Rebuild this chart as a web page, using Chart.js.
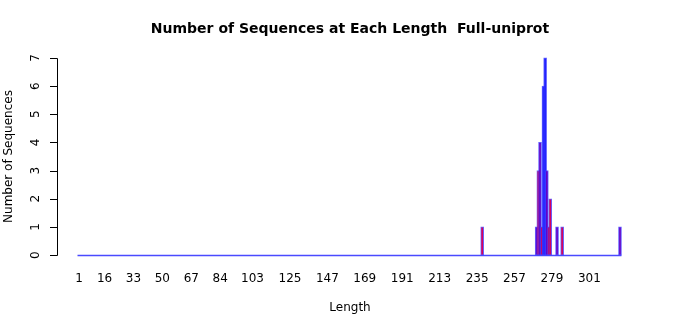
<!DOCTYPE html>
<html>
<head>
<meta charset="utf-8">
<script src="https://cdn.jsdelivr.net/npm/chart.js@4"></script>
<style>
  html, body { margin: 0; padding: 0; background: #fff; }
  #wrap { width: 700px; height: 315px; }
</style>
</head>
<body>
<div id="wrap"><canvas id="lenChart" width="700" height="315"></canvas></div>
<script>
// sequence lengths that have at least one sequence, and how many
var lengths = [238, 270, 271, 272, 273, 274, 275, 276, 277, 278, 282, 285, 319];
var counts = [1, 1, 3, 4, 1, 6, 7, 3, 1, 2, 1, 1, 1];
var minLength = 1;
var maxLength = 319;
var xTickLabels = [1, 16, 33, 50, 67, 84, 103, 125, 147, 169, 191, 213, 235, 257, 279, 301];
var yTickLabels = [0, 1, 2, 3, 4, 5, 6, 7];

var RED = '#d8005c';
var PURPLE = '#6400c8';
var BLUE = '#2020ff';
var barColors = [RED, PURPLE, RED, PURPLE, RED, BLUE, BLUE, PURPLE, RED, RED, PURPLE, RED, PURPLE];

var points = [];
for (var i = 0; i < lengths.length; i++) {
  points.push({ x: lengths[i], y: counts[i] });
}

var font = 'DejaVu Sans, sans-serif';

var axesPlugin = {
  id: 'rAxes',
  beforeDatasetsDraw: function(chart) {
    var ctx = chart.ctx;
    var x = chart.scales.x, y = chart.scales.y;
    // zero-height bars show up as a blue baseline
    var py = Math.round(y.getPixelForValue(0)) + 0.5;
    ctx.save();
    ctx.strokeStyle = '#4a4aff';
    ctx.lineWidth = 1.3;
    ctx.beginPath();
    ctx.moveTo(x.getPixelForValue(minLength) - 1.5, py);
    ctx.lineTo(x.getPixelForValue(maxLength) + 1.5, py);
    ctx.stroke();
    ctx.restore();
  },
  afterDraw: function(chart) {
    var ctx = chart.ctx;
    var x = chart.scales.x, y = chart.scales.y;
    var area = chart.chartArea;
    ctx.save();

    // title
    ctx.fillStyle = '#000';
    ctx.font = 'bold 14px ' + font;
    ctx.textAlign = 'center';
    ctx.textBaseline = 'middle';
    ctx.fillText('Number of Sequences at Each Length  Full-uniprot', 350, 29);

    // y axis
    var axX = area.left;
    var y0 = y.getPixelForValue(yTickLabels[0]);
    var y1 = y.getPixelForValue(yTickLabels[yTickLabels.length - 1]);
    ctx.strokeStyle = '#000';
    ctx.lineWidth = 1;
    ctx.beginPath();
    ctx.moveTo(axX + 0.5, Math.round(y0) + 0.5);
    ctx.lineTo(axX + 0.5, Math.round(y1) + 0.5);
    for (var i = 0; i < yTickLabels.length; i++) {
      var py = Math.round(y.getPixelForValue(yTickLabels[i])) + 0.5;
      ctx.moveTo(axX + 0.5, py);
      ctx.lineTo(axX - 7, py);
    }
    ctx.stroke();

    ctx.font = '12px ' + font;
    for (var i = 0; i < yTickLabels.length; i++) {
      var py = y.getPixelForValue(yTickLabels[i]);
      ctx.save();
      ctx.translate(36, py);
      ctx.rotate(-Math.PI / 2);
      ctx.textAlign = 'center';
      ctx.textBaseline = 'middle';
      ctx.fillText(String(yTickLabels[i]), 0, 0);
      ctx.restore();
    }

    // x labels
    ctx.textAlign = 'center';
    ctx.textBaseline = 'middle';
    for (var j = 0; j < xTickLabels.length; j++) {
      ctx.fillText(String(xTickLabels[j]), x.getPixelForValue(xTickLabels[j]), 279);
    }

    // axis titles
    ctx.fillText('Length', 350, 308);
    ctx.save();
    ctx.translate(9, (y0 + y1) / 2);
    ctx.rotate(-Math.PI / 2);
    ctx.fillText('Number of Sequences', 0, 0);
    ctx.restore();

    ctx.restore();
  }
};

var ctx = document.getElementById('lenChart').getContext('2d');
var lenChart = new Chart(ctx, {
  type: 'bar',
  data: {
    datasets: [{
      data: points,
      backgroundColor: barColors,
      borderColor: 'rgba(60,60,255,0.8)',
      borderWidth: 1,
      borderSkipped: false,
      barThickness: 3
    }]
  },
  options: {
    responsive: false,
    animation: false,
    layout: {
      padding: { left: 57, right: 59, top: 50, bottom: 52 }
    },
    plugins: {
      legend: { display: false },
      tooltip: { enabled: false },
      title: { display: false }
    },
    scales: {
      x: {
        type: 'linear',
        display: false,
        offset: false,
        min: -11.93,
        max: 331.35
      },
      y: {
        display: false,
        min: -0.28,
        max: 7.28
      }
    }
  },
  plugins: [axesPlugin]
});
</script>
</body>
</html>
